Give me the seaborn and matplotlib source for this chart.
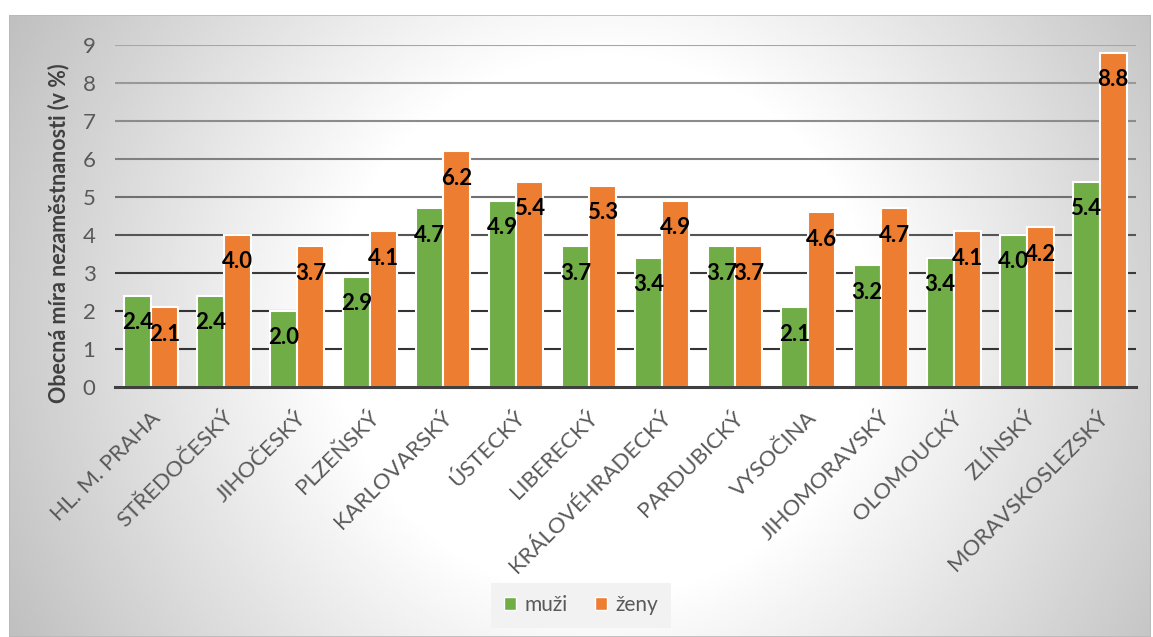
import numpy as np
import pandas as pd
import matplotlib
matplotlib.use('Agg')
import matplotlib.pyplot as plt
import matplotlib.transforms as mtransforms
from matplotlib.patches import Patch, Rectangle
import seaborn as sns

# unemployment rate by region, men / women
regions = ['HL. M. PRAHA', 'STŘEDOČESKÝ', 'JIHOČESKÝ', 'PLZEŇSKÝ', 'KARLOVARSKÝ', 'ÚSTECKÝ',
           'LIBERECKÝ', 'KRÁLOVÉHRADECKÝ', 'PARDUBICKÝ', 'VYSOČINA', 'JIHOMORAVSKÝ',
           'OLOMOUCKÝ', 'ZLÍNSKÝ', 'MORAVSKOSLEZSKÝ']
muzi = [2.4, 2.4, 2.0, 2.9, 4.7, 4.9, 3.7, 3.4, 3.7, 2.1, 3.2, 3.4, 4.0, 5.4]
zeny = [2.1, 4.0, 3.7, 4.1, 6.2, 5.4, 5.3, 4.9, 3.7, 4.6, 4.7, 4.1, 4.2, 8.8]
series = ['muži', 'ženy']
colors = ['#70ad47', '#ed7d31']
y_ticks = list(range(10))

sns.set_style('white')
plt.rcParams['font.family'] = ['Lato', 'DejaVu Sans']

W, H = 1153, 637
fig = plt.figure(figsize=(W / 100, H / 100), dpi=100)

# radial gradient panel behind the chart
bg = fig.add_axes([9 / W, 0, (W - 11) / W, (H - 15) / H], zorder=-5)
pw, ph = W - 11, H - 15
xx, yy = np.meshgrid(np.linspace(0, pw, 400), np.linspace(0, ph, 250))
cx, cy = 0.52 * pw, 0.5 * ph
r = np.hypot(xx - cx, yy - cy) / np.hypot(cx, cy)
shade = 1 - 0.25 * np.clip((r - 0.4) / 0.6, 0, 1)
bg.imshow(shade, cmap='gray', vmin=0, vmax=1, aspect='auto', extent=(0, 1, 0, 1), interpolation='bilinear')
bg.add_patch(Rectangle((0, 0), 1, 1, transform=bg.transAxes, fill=False, edgecolor='#b8b8b8', lw=1.2))
bg.set_axis_off()

ax = fig.add_axes([115 / W, (H - 387) / H, (1136 - 115) / W, (387 - 45) / H])
ax.set_facecolor('none')

df = pd.DataFrame({
    'kraj': regions * 2,
    'pohlavi': [series[0]] * len(regions) + [series[1]] * len(regions),
    'hodnota': muzi + zeny,
})
sns.barplot(data=df, x='kraj', y='hodnota', hue='pohlavi', palette=colors, saturation=1, width=0.74,
            edgecolor='white', linewidth=1.5, ax=ax, zorder=3, legend=False)

# value labels a bit below the top of each bar
for container, vals in zip(ax.containers, [muzi, zeny]):
    for bar, v in zip(container, vals):
        ax.annotate(f'{v:.1f}', (bar.get_x() + bar.get_width() / 2, bar.get_height()),
                    xytext=(0, -27), textcoords='offset pixels', ha='center', va='center',
                    fontsize=16, fontweight='bold', color='black', zorder=5)

# gridlines (darker near the bottom, as in the original)
grid_cols = ['#333333', '#333333', '#3a3a3a', '#555555', '#707070', '#808080', '#8c8c8c', '#999999', '#a6a6a6']
for yv, c in zip(y_ticks[1:], grid_cols):
    ax.axhline(yv, color=c, lw=1.5, zorder=1)

ax.set_ylim(0, 9)
ax.set_yticks(y_ticks)
ax.tick_params(axis='y', length=0, pad=14, labelsize=16, labelcolor='#595959')
ax.set_xlim(-0.5, len(regions) - 0.5)
ax.set_xticks(np.arange(-0.5, len(regions), 1), minor=True)
ax.tick_params(axis='x', which='minor', length=7, width=2.2, color='#404040', direction='out')
ax.tick_params(axis='x', which='major', length=0, pad=20)
ax.set_xticks(range(len(regions)))
ax.set_xticklabels(regions, rotation=45, ha='right', va='center', rotation_mode='anchor',
                   fontsize=16, color='#595959')
shift = mtransforms.ScaledTranslation(6 / 100, 0, fig.dpi_scale_trans)
for lbl in ax.get_xticklabels():
    lbl.set_transform(lbl.get_transform() + shift)

for s in ['top', 'right', 'left']:
    ax.spines[s].set_visible(False)
ax.spines['bottom'].set_color('#404040')
ax.spines['bottom'].set_linewidth(2.2)
ax.spines['bottom'].set_zorder(4)

ax.set_xlabel('')
ax.set_ylabel('Obecná míra nezaměstnanosti (v %)', fontsize=15.5, fontweight='bold', color='#404040')
ax.yaxis.set_label_coords(-0.045, 0.45)

handles = [Patch(facecolor=c, edgecolor='white', lw=1) for c in colors]
leg = ax.legend(handles, series, loc='center', bbox_to_anchor=(581 / W, 1 - 605 / H),
                bbox_transform=fig.transFigure, ncol=2, frameon=True, fancybox=False,
                facecolor='#f2f2f2', edgecolor='none', fontsize=15, labelcolor='#595959',
                handlelength=0.6, handleheight=0.6, handletextpad=0.4, columnspacing=1.3,
                borderpad=0.6, borderaxespad=0)
leg.get_frame().set_alpha(1)

fig.savefig('out.png', dpi=100)
